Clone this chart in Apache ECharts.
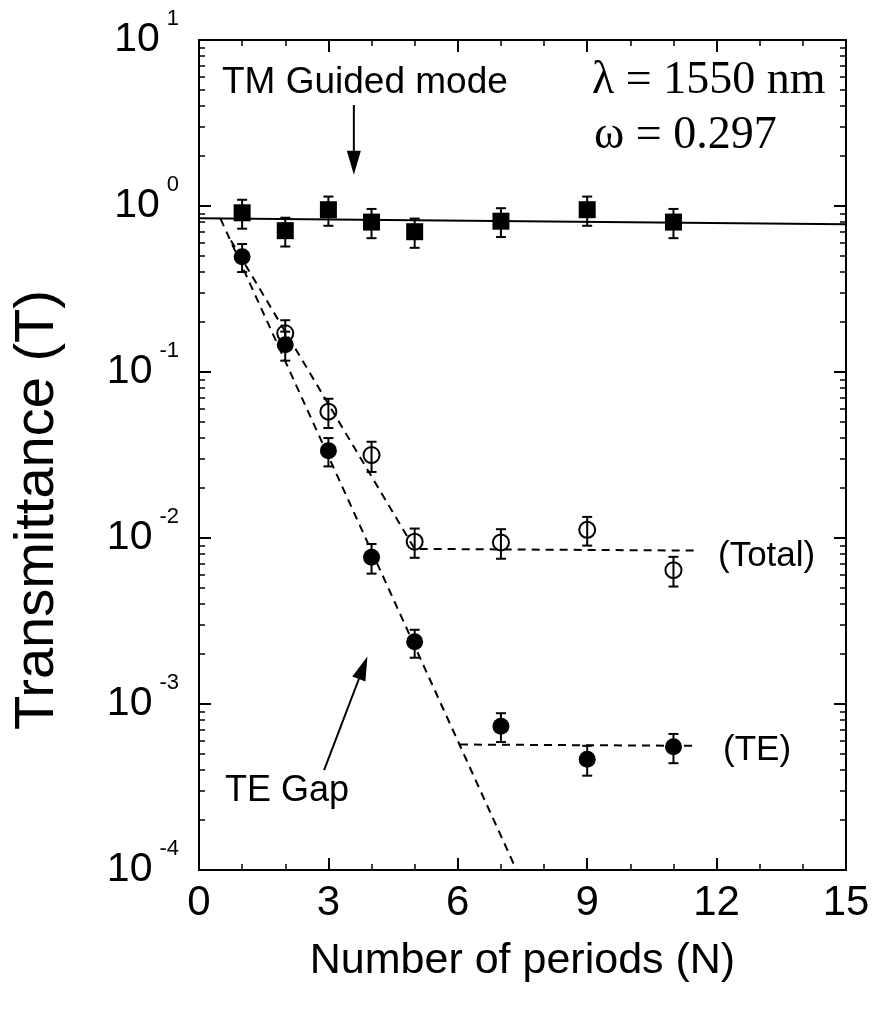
<!DOCTYPE html>
<html><head><meta charset="utf-8">
<script src="https://cdn.jsdelivr.net/npm/echarts@6/dist/echarts.min.js"></script>
<style>html,body{margin:0;padding:0;background:#fff}#c{width:880px;height:1009px}</style>
</head><body><div id="c"></div>
<script>
// ---- data ----
const periodsN = [1, 2, 3, 4, 5, 7, 9, 11];
const tmT      = [0.91, 0.71, 0.95, 0.80, 0.70, 0.81, 0.95, 0.80];
const tmLow    = [0.73, 0.57, 0.76, 0.64, 0.56, 0.65, 0.76, 0.64];
const tmHigh   = [1.09, 0.85, 1.14, 0.96, 0.84, 0.97, 1.14, 0.96];
const teT      = [0.495, 0.146, 0.0336, 0.00765, 0.00237, 0.000734, 0.000465, 0.000553];
const teLow    = [0.40, 0.117, 0.027, 0.0061, 0.0019, 0.00059, 0.00037, 0.00044];
const teHigh   = [0.59, 0.175, 0.040, 0.0092, 0.0028, 0.00088, 0.00056, 0.00066];
const totalN   = [2, 3, 4, 5, 7, 9, 11];
const totalT   = [0.171, 0.0577, 0.0316, 0.0095, 0.0094, 0.0112, 0.0064];
const totalLow = [0.137, 0.046, 0.025, 0.0076, 0.0075, 0.0090, 0.0051];
const totalHigh= [0.205, 0.069, 0.038, 0.0114, 0.0113, 0.0134, 0.0077];
// fitted guide lines
const tmFitN   = [0, 15];       const tmFitT   = [0.845, 0.776];
const gapFitN  = [0.5, 7.36];   const gapFitT  = [0.836, 0.0001];
const totFitN  = [0.74, 5.0, 11.5]; const totFitT = [0.62, 0.0086, 0.0084];
const teFlatN  = [6.05, 11.5];  const teFlatT  = [0.00057, 0.00056];
// annotation arrows [N, T]
const arrowFrom = [[3.59, 4.06], [2.90, 0.00040]];
const arrowTo   = [[3.59, 1.54], [3.905, 0.00193]];
// axis ticks
const xTicks = [0, 3, 6, 9, 12, 15];
const yMajor = [1e-4, 1e-3, 1e-2, 1e-1, 1, 10];
const yMinorMant = [2, 3, 4, 5, 6, 7, 8, 9];
const yMinor = [];
yMajor.slice(0, 5).forEach(d => yMinorMant.forEach(m => yMinor.push(+(m * d).toPrecision(3))));

const F = "'Liberation Sans', Arial, Helvetica, sans-serif";
const FS = "'Liberation Serif', 'Times New Roman', serif";
const black = '#000';

const pairs = (xs, ys) => xs.map((x, i) => [x, ys[i]]);

function errBars(xs, lo, hi) {
  return {
    type: 'custom', xAxisIndex: 0, yAxisIndex: 0, z: 2, silent: true,
    data: xs.map((x, i) => [x, lo[i], hi[i]]),
    encode: { x: 0, y: [1, 2] },
    renderItem: function (params, api) {
      const x = api.value(0);
      const a = api.coord([x, api.value(1)]);
      const b = api.coord([x, api.value(2)]);
      const w = 5;
      const st = { stroke: black, lineWidth: 2 };
      return { type: 'group', children: [
        { type: 'line', shape: { x1: a[0], y1: a[1], x2: b[0], y2: b[1] }, style: st },
        { type: 'line', shape: { x1: a[0] - w, y1: a[1], x2: a[0] + w, y2: a[1] }, style: st },
        { type: 'line', shape: { x1: b[0] - w, y1: b[1], x2: b[0] + w, y2: b[1] }, style: st }
      ]};
    }
  };
}

const dashed = { color: black, width: 2, type: [8, 6] };

const chart = echarts.init(document.getElementById('c'), null, { renderer: 'canvas' });
const xBase = {
  type: 'value', min: 0, max: 15, interval: 3,
  axisLine: { show: true, onZero: false, lineStyle: { color: black, width: 2 } },
  axisTick: { show: true, inside: true, length: 12, lineStyle: { color: black, width: 2 } },
  minorTick: { show: true, splitNumber: 3, length: 6, lineStyle: { color: black, width: 1.5 } },
  splitLine: { show: false }, minorSplitLine: { show: false }
};
const yBase = {
  type: 'log', logBase: 10, min: 1e-4, max: 10,
  axisLine: { show: true, onZero: false, lineStyle: { color: black, width: 2 } },
  splitLine: { show: false }, minorTick: { show: false }
};

chart.setOption({
  animation: false,
  backgroundColor: '#fff',
  grid: { left: 199, right: 34, top: 40, bottom: 139, containLabel: false },
  xAxis: [
    Object.assign({}, xBase, {
      position: 'bottom',
      axisLabel: { show: true, fontSize: 42, fontFamily: F, color: black, margin: 12,
        customValues: xTicks },
      name: 'Number of periods (N)', nameLocation: 'middle', nameGap: 70,
      nameTextStyle: { fontSize: 43, fontFamily: F, color: black }
    }),
    Object.assign({}, xBase, { position: 'top', axisLabel: { show: false } })
  ],
  yAxis: [
    Object.assign({}, yBase, {
      position: 'left',
      axisTick: { show: true, inside: true, length: 12, customValues: yMajor,
        lineStyle: { color: black, width: 2 } },
      axisLabel: { show: true, customValues: yMajor, margin: 20, color: black,
        formatter: v => '{b|10}{e|' + Math.round(Math.log10(v)) + '}',
        rich: {
          b: { fontSize: 41, fontFamily: F, color: black, lineHeight: 64, verticalAlign: 'middle' },
          e: { fontSize: 22, fontFamily: F, color: black, lineHeight: 22, verticalAlign: 'top', padding: [0, 0, 0, 7] }
        } }
    }),
    Object.assign({}, yBase, {
      position: 'left', axisLabel: { show: false },
      axisTick: { show: true, inside: true, length: 6, customValues: yMinor,
        lineStyle: { color: black, width: 1.5 } }
    }),
    Object.assign({}, yBase, {
      position: 'right', axisLabel: { show: false },
      axisTick: { show: true, inside: true, length: 12, customValues: yMajor,
        lineStyle: { color: black, width: 2 } }
    }),
    Object.assign({}, yBase, {
      position: 'right', axisLabel: { show: false },
      axisTick: { show: true, inside: true, length: 6, customValues: yMinor,
        lineStyle: { color: black, width: 1.5 } }
    })
  ],
  series: [
    { type: 'line', data: pairs(tmFitN, tmFitT), showSymbol: false, symbol: 'none',
      lineStyle: { color: black, width: 2 }, z: 1, silent: true },
    { type: 'line', data: pairs(gapFitN, gapFitT), showSymbol: false, symbol: 'none',
      lineStyle: dashed, z: 1, silent: true },
    { type: 'line', data: pairs(totFitN, totFitT), showSymbol: false, symbol: 'none',
      lineStyle: dashed, z: 1, silent: true },
    { type: 'line', data: pairs(teFlatN, teFlatT), showSymbol: false, symbol: 'none',
      lineStyle: dashed, z: 1, silent: true },
    errBars(periodsN, tmLow, tmHigh),
    errBars(periodsN, teLow, teHigh),
    errBars(totalN, totalLow, totalHigh),
    { name: 'TM', type: 'scatter', data: pairs(periodsN, tmT), symbol: 'rect', symbolSize: 17,
      itemStyle: { color: black, opacity: 1 }, z: 5 },
    { name: 'TE', type: 'scatter', data: pairs(periodsN, teT), symbol: 'circle', symbolSize: 17,
      itemStyle: { color: black, opacity: 1 }, z: 5 },
    { name: 'Total', type: 'scatter', data: pairs(totalN, totalT), symbol: 'circle', symbolSize: 16,
      itemStyle: { color: 'rgba(0,0,0,0)', borderColor: black, borderWidth: 2, opacity: 1 }, z: 5 },
    { type: 'custom', silent: true, z: 6,
      data: arrowFrom.map((p, i) => [p[0], p[1], arrowTo[i][0], arrowTo[i][1]]),
      encode: { x: [0, 2], y: [1, 3] },
      renderItem: function (params, api) {
        const p1 = api.coord([api.value(0), api.value(1)]);
        const p2 = api.coord([api.value(2), api.value(3)]);
        const dx = p2[0] - p1[0], dy = p2[1] - p1[1];
        const len = Math.sqrt(dx * dx + dy * dy);
        const ux = dx / len, uy = dy / len;
        const L = 24, W = 7;
        const bx = p2[0] - ux * L, by = p2[1] - uy * L;
        return { type: 'group', children: [
          { type: 'line', shape: { x1: p1[0], y1: p1[1], x2: bx, y2: by },
            style: { stroke: black, lineWidth: 2 } },
          { type: 'polygon', shape: { points: [[p2[0], p2[1]], [bx - uy * W, by + ux * W], [bx + uy * W, by - ux * W]] },
            style: { fill: black } }
        ]};
      }
    }
  ],
  graphic: [
    { type: 'text', x: 38, y: 510, rotation: Math.PI / 2,
      style: { text: 'Transmittance (T)', font: '56px ' + F, fill: black, align: 'center', verticalAlign: 'middle' } },
    { type: 'text', x: 222, y: 83,
      style: { text: 'TM Guided mode', font: '37px ' + F, fill: black, align: 'left', verticalAlign: 'middle' } },
    { type: 'text', x: 592, y: 81,
      style: { text: 'λ = 1550 nm', font: '46px ' + FS, fill: black, align: 'left', verticalAlign: 'middle' } },
    { type: 'text', x: 594, y: 136,
      style: { text: 'ω = 0.297', font: '46px ' + FS, fill: black, align: 'left', verticalAlign: 'middle' } },
    { type: 'text', x: 718, y: 556,
      style: { text: '(Total)', font: '35px ' + F, fill: black, align: 'left', verticalAlign: 'middle' } },
    { type: 'text', x: 723, y: 750,
      style: { text: '(TE)', font: '35px ' + F, fill: black, align: 'left', verticalAlign: 'middle' } },
    { type: 'text', x: 225, y: 791,
      style: { text: 'TE Gap', font: '36px ' + F, fill: black, align: 'left', verticalAlign: 'middle' } }
  ]
});
</script>
</body></html>
